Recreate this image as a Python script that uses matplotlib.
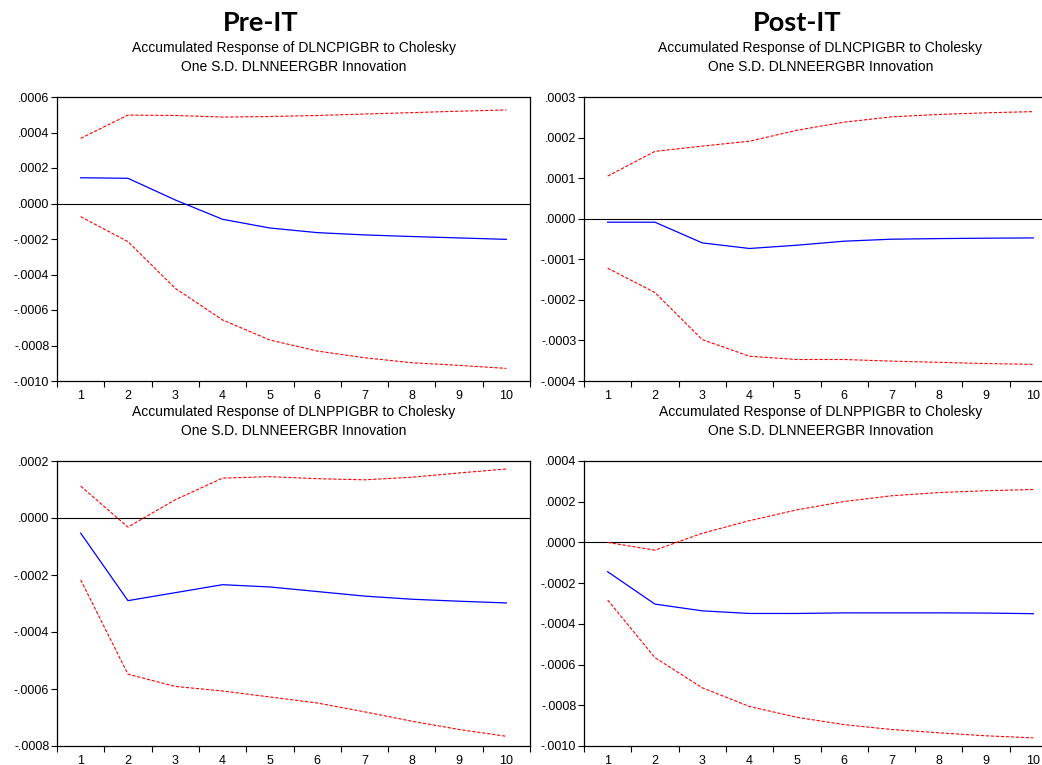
import matplotlib
matplotlib.use("Agg")
import matplotlib.pyplot as plt
from matplotlib.ticker import FuncFormatter

plt.rcParams['font.family'] = ['Liberation Sans', 'DejaVu Sans']
plt.rcParams['axes.unicode_minus'] = False

periods = [1, 2, 3, 4, 5, 6, 7, 8, 9, 10]

# Pre-IT, CPI response
pre_cpi_resp = [0.000145, 0.000142, 0.000020, -0.000089, -0.000138, -0.000164, -0.000177, -0.000186, -0.000194, -0.000202]
pre_cpi_up = [0.000367, 0.000498, 0.000496, 0.000487, 0.000490, 0.000496, 0.000504, 0.000512, 0.000520, 0.000527]
pre_cpi_lo = [-0.000074, -0.000215, -0.000478, -0.000656, -0.000769, -0.000831, -0.000869, -0.000897, -0.000912, -0.000929]

# Post-IT, CPI response
post_cpi_resp = [-0.0000086, -0.0000086, -0.0000596, -0.0000734, -0.0000653, -0.0000554, -0.0000505, -0.000049, -0.000048, -0.0000473]
post_cpi_up = [0.000105, 0.000166, 0.000179, 0.000191, 0.000218, 0.000238, 0.000251, 0.000257, 0.000261, 0.000264]
post_cpi_lo = [-0.000122, -0.000182, -0.000298, -0.000339, -0.000347, -0.000347, -0.000351, -0.000354, -0.000357, -0.000359]

# Pre-IT, PPI response
pre_ppi_resp = [-0.000053, -0.000290, -0.000262, -0.000234, -0.000242, -0.000258, -0.000274, -0.000285, -0.000292, -0.000298]
pre_ppi_up = [0.000112, -0.000032, 0.000064, 0.000140, 0.000145, 0.000138, 0.000134, 0.000143, 0.000158, 0.000172]
pre_ppi_lo = [-0.000217, -0.000548, -0.000591, -0.000607, -0.000628, -0.000649, -0.000680, -0.000713, -0.000742, -0.000766]

# Post-IT, PPI response
post_ppi_resp = [-0.000144, -0.000303, -0.000336, -0.000349, -0.000349, -0.000346, -0.000346, -0.000346, -0.000347, -0.000350]
post_ppi_up = [0.000000, -0.000038, 0.000045, 0.000107, 0.000160, 0.000201, 0.000229, 0.000245, 0.000254, 0.000260]
post_ppi_lo = [-0.000283, -0.000566, -0.000714, -0.000806, -0.000859, -0.000895, -0.000919, -0.000935, -0.000950, -0.000960]

W, H = 1042, 765
fig = plt.figure(figsize=(W / 100, H / 100), dpi=100)


def fmt(v, pos):
    if abs(v) < 1e-12:
        return ".0000"
    return f"{v:.4f}".replace("0.", ".", 1)


def panel(x0, y_top, y_bot, resp, up, lo, ylim, step, title):
    ax = fig.add_axes([x0 / W, 1 - y_bot / H, 473 / W, (y_bot - y_top) / H])
    ax.axhline(0, color='black', lw=0.8)
    ax.plot(periods, up, color='red', lw=0.8, ls=(0, (3, 1.5)))
    ax.plot(periods, lo, color='red', lw=0.8, ls=(0, (3, 1.5)))
    ax.plot(periods, resp, color='blue', lw=0.9)
    ax.set_xlim(0.5, 10.5)
    ax.set_ylim(*ylim)
    n = round((ylim[1] - ylim[0]) / step)
    ax.set_yticks([ylim[0] + i * step for i in range(n + 1)])
    ax.yaxis.set_major_formatter(FuncFormatter(fmt))
    ax.set_xticks([p - 0.5 for p in periods] + [10.5])
    ax.set_xticklabels([])
    ax.set_xticks(periods, minor=True)
    ax.set_xticklabels([str(p) for p in periods], minor=True)
    ax.tick_params(axis='both', which='major', direction='out', length=4, width=0.8, labelsize=9, pad=1.5)
    ax.tick_params(axis='x', which='minor', length=0, labelsize=9, pad=6.5)
    for s in ax.spines.values():
        s.set_linewidth(0.9)
    ax.set_title(title, fontsize=10, linespacing=1.4, pad=19)
    return ax


t_cpi = "Accumulated Response of DLNCPIGBR to Cholesky\nOne S.D. DLNNEERGBR Innovation"
t_ppi = "Accumulated Response of DLNPPIGBR to Cholesky\nOne S.D. DLNNEERGBR Innovation"

panel(57, 97, 381, pre_cpi_resp, pre_cpi_up, pre_cpi_lo, (-0.0010, 0.0006), 0.0002, t_cpi)
panel(584, 97, 381, post_cpi_resp, post_cpi_up, post_cpi_lo, (-0.0004, 0.0003), 0.0001, t_cpi)
panel(57, 461, 746, pre_ppi_resp, pre_ppi_up, pre_ppi_lo, (-0.0008, 0.0002), 0.0002, t_ppi)
panel(584, 461, 746, post_ppi_resp, post_ppi_up, post_ppi_lo, (-0.0010, 0.0004), 0.0002, t_ppi)

fig.text(261 / W, 1 - 23 / H, "Pre-IT", ha='center', va='center', fontsize=19.5, fontweight='bold', family=['Lato', 'DejaVu Sans'])
fig.text(797 / W, 1 - 23 / H, "Post-IT", ha='center', va='center', fontsize=19.5, fontweight='bold', family=['Lato', 'DejaVu Sans'])

fig.savefig("out.png", dpi=100)
